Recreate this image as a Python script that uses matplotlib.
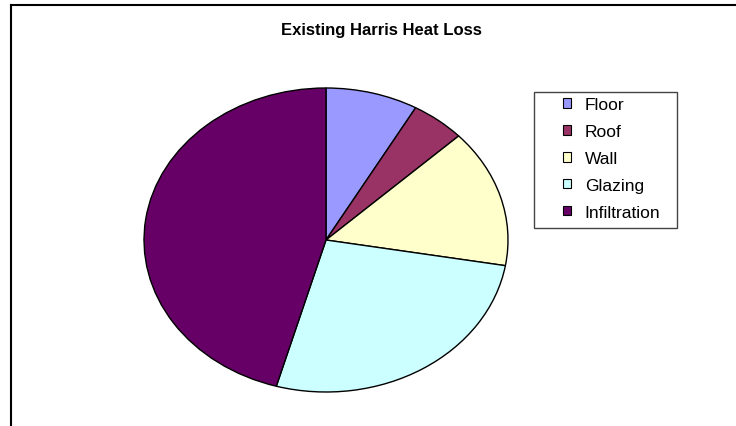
import matplotlib.pyplot as plt
from matplotlib.lines import Line2D
from matplotlib.patches import Patch, Rectangle

plt.rcParams['font.family'] = ['Liberation Sans', 'DejaVu Sans']

labels = ['Floor', 'Roof', 'Wall', 'Glazing', 'Infiltration']
shares = [8.2, 4.8, 14.7, 26.7, 45.6]
colors = ['#9999FF', '#993366', '#FFFFCC', '#CCFFFF', '#660066']

W, H = 736, 427
fig = plt.figure(figsize=(W / 100, H / 100), dpi=100)

# elliptical pie: axes spans the ellipse, aspect left free
ax = fig.add_axes([144 / W, (H - 393) / H, 364 / W, 304 / H])
wedges, _ = ax.pie(shares, colors=colors, startangle=90, counterclock=False,
                   wedgeprops=dict(edgecolor='black', linewidth=1.0))
ax.set_aspect('auto')
ax.set_xlim(-1, 1)
ax.set_ylim(-1, 1)
ax.axis('off')
for w in wedges:
    w.set_clip_on(False)

fig.text(381 / W, 1 - 31 / H, 'Existing Harris Heat Loss', ha='center', va='center',
         fontsize=12, fontweight='bold')

# legend box drawn separately so the padding can be set freely
fig.add_artist(Rectangle((534 / W, 1 - 229 / H), (677 - 534) / W, (229 - 93) / H,
                         transform=fig.transFigure, facecolor='white',
                         edgecolor='#444444', linewidth=1.0))
handles = [Patch(facecolor=c, edgecolor='black', linewidth=0.8) for c in colors]
leg = fig.legend(handles, labels, loc='upper left',
                 bbox_to_anchor=(563 / W, 1 - 98 / H), bbox_transform=fig.transFigure,
                 fontsize=12.5, frameon=False,
                 handlelength=0.46, handleheight=0.46, handletextpad=0.8,
                 labelspacing=0.69, borderpad=0, borderaxespad=0)

# chart area border (top and left edges)
fig.add_artist(Line2D([11 / W, 11 / W], [0, 1 - 6 / H], color='black', linewidth=1.5))
fig.add_artist(Line2D([11 / W, 1], [1 - 6 / H, 1 - 6 / H], color='black', linewidth=1.5))

fig.savefig('out.png', dpi=100)
